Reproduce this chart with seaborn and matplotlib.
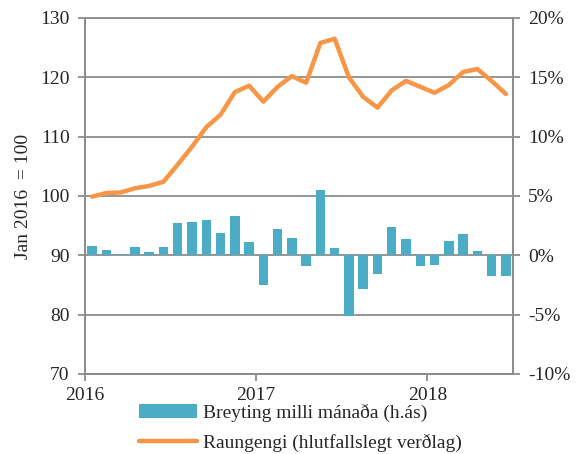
import matplotlib
matplotlib.use("Agg")
import matplotlib.pyplot as plt
import seaborn as sns
import numpy as np
import pandas as pd
from matplotlib.patches import Patch
from matplotlib.lines import Line2D

months = pd.date_range("2016-01-01", periods=30, freq="MS").strftime("%Y-%m").tolist()
change_pct = [0.81, 0.45, 0.11, 0.70, 0.31, 0.70, 2.75, 2.80, 2.94, 1.90, 3.33, 1.12,
              -2.52, 2.24, 1.48, -0.92, 5.49, 0.64, -5.13, -2.80, -1.57, 2.35, 1.40, -0.92,
              -0.84, 1.20, 1.82, 0.39, -1.71, -1.76]
level = [99.9, 100.5, 100.6, 101.3, 101.7, 102.4, 105.3, 108.3, 111.6, 113.7, 117.5, 118.6,
         115.9, 118.4, 120.2, 119.1, 125.8, 126.5, 120.0, 116.7, 114.9, 117.8, 119.4, 118.4,
         117.4, 118.7, 120.9, 121.4, 119.4, 117.2]
year_labels = ["2016", "2017", "2018"]
left_ticks = [70, 80, 90, 100, 110, 120, 130]
right_ticks = [-10, -5, 0, 5, 10, 15, 20]
bar_label = "Breyting milli mánaða (h.ás)"
line_label = "Raungengi (hlutfallslegt verðlag)"
ylabel = "Jan 2016  = 100"

sns.set_style("white")
plt.rcParams["font.family"] = ["Liberation Serif", "DejaVu Serif"]
plt.rcParams["font.size"] = 14

bar_color = "#4BACC6"
line_color = "#F79646"
grid_color = "#8C8C8C"

df = pd.DataFrame({"month": months, "change": change_pct, "level": level})
df["pos"] = np.arange(len(df))

fig = plt.figure(figsize=(5.81, 4.54), dpi=100)
ax2 = fig.add_axes([85/581, 1-374/454, (513-85)/581, (374-18)/454])
ax = ax2.twinx()
ax.set_zorder(ax2.get_zorder() + 1)
ax.patch.set_visible(False)

sns.barplot(data=df, x="month", y="change", color=bar_color, width=0.66,
            saturation=1, ax=ax2, zorder=3, linewidth=0, edgecolor="none")
sns.lineplot(data=df, x="pos", y="level", color=line_color, linewidth=3.2, ax=ax)

ax2.set_ylim(-10, 20)
ax.set_ylim(70, 130)
ax2.set_xlim(-0.5, 29.5)

ax2.yaxis.tick_right()
ax2.yaxis.set_label_position("right")
ax.yaxis.tick_left()
ax.yaxis.set_label_position("left")

ax2.set_yticks(right_ticks)
ax2.set_yticklabels([f"{v}%" for v in right_ticks])
ax.set_yticks(left_ticks)
ax.set_yticklabels([str(v) for v in left_ticks])

ax2.set_xticks([-0.5, 11.5, 23.5])
ax2.set_xticklabels(year_labels)
ax.set_xlabel("")
ax2.set_xlabel("")
ax2.set_ylabel("")
ax.set_ylabel(ylabel, fontsize=14, labelpad=6)

ax2.grid(axis="y", color=grid_color, linewidth=1.3, zorder=0)
ax2.grid(axis="x", visible=False)
ax2.set_axisbelow(True)
for a in (ax, ax2):
    for s in a.spines.values():
        s.set_color(grid_color)
        s.set_linewidth(1.3)
ax.spines["top"].set_visible(False)

ax2.tick_params(axis="y", direction="out", length=5, color=grid_color, width=1.3,
                right=True, left=False, labelright=True, labelleft=False, pad=6)
ax2.tick_params(axis="x", direction="out", length=5, color=grid_color, width=1.3,
                bottom=True, pad=4)
ax.tick_params(axis="y", direction="out", length=5, color=grid_color, width=1.3,
               left=True, right=False, labelleft=True, labelright=False, pad=6)

handles = [Patch(facecolor=bar_color, edgecolor="none"),
           Line2D([0], [0], color=line_color, linewidth=3.2)]
fig.legend(handles, [bar_label, line_label], loc="upper left",
           bbox_to_anchor=(0.225, 0.128), frameon=False, handlelength=3.0,
           handleheight=0.7, labelspacing=0.6, handletextpad=0.3, borderaxespad=0,
           fontsize=14)

fig.savefig("out.png", dpi=100)
